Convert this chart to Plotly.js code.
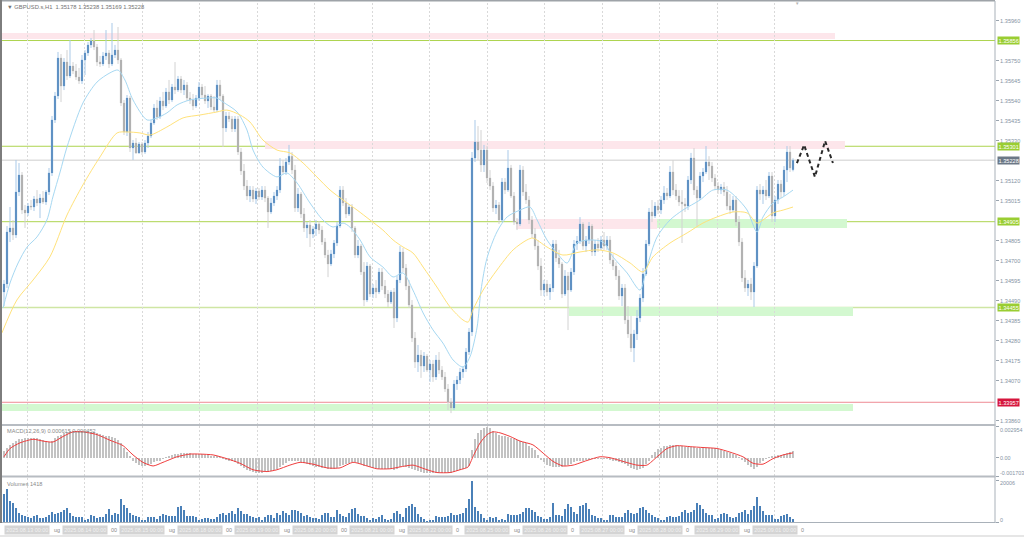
<!DOCTYPE html>
<html><head><meta charset="utf-8">
<script src="https://cdn.plot.ly/plotly-3.0.1.min.js"></script>
<style>html,body{margin:0;padding:0;background:#fff;overflow:hidden}#chart{width:1024px;height:537px}</style>
</head><body><div id="chart"></div>
<script>
// ---------- DATA ----------
const symbolTitle = '\u25BC GBPUSD.s,H1  1.35178 1.35238 1.35169 1.35228';
const macdTitle = 'MACD(12,26,9) 0.000615 0.000452';
const volTitle = 'Volumes 1418';
const dateLabels = ['2025.08.13 00:00','2025.08.14 00:00','2025.08.15 00:00','2025.08.18 00:00','2025.08.19 00:00','2025.08.20 00:00','2025.08.21 00:00','2025.08.22 00:00','2025.08.25 00:00','2025.08.26 00:00','2025.08.27 00:00','2025.08.28 00:00','2025.08.29 00:00','2025.09.01 00:00'];
const hiddenLabelTails = ['ug','00','ug','00','ug','00','ug','0','ug','0','ug','0','ug','0'];
const priceTicks = [1.35960,1.35750,1.35645,1.35540,1.35435,1.35330,1.35120,1.35015,1.34805,1.34700,1.34595,1.34490,1.34385,1.34280,1.34175,1.34070,1.33860];
const macdTicks = [0.002954, 0, -0.001703];
const macdTickText = ['0.002954','0.00','-0.001703'];
const volTicks = [20006, 0];
const volTickText = ['20006','0'];

const open = [
1.34536,1.34578,1.34851,1.34872,1.34835,1.35061,1.3515,1.34966,1.34951,1.34987,
1.34982,1.35024,1.35003,1.35029,1.35008,1.35061,1.35161,1.35439,1.35565,1.35764,
1.35617,1.35743,1.3567,1.35722,1.35696,1.35664,1.35644,1.35754,1.35791,1.35833,
1.35854,1.35822,1.35743,1.35733,1.35775,1.35791,1.35733,1.3578,1.35806,1.35754,
1.35528,1.35376,1.35554,1.35292,1.35318,1.35266,1.35313,1.35271,1.35318,1.35355,
1.35423,1.35502,1.35455,1.35539,1.35512,1.35586,1.35544,1.35612,1.35596,1.35654,
1.35596,1.35623,1.35554,1.35544,1.35512,1.35554,1.35612,1.3557,1.35539,1.35565,
1.35507,1.35491,1.35623,1.35565,1.35397,1.3546,1.35444,1.35392,1.35444,1.35271,
1.35171,1.35092,1.3504,1.35071,1.35024,1.35066,1.35035,1.35071,1.35029,1.34956,
1.35003,1.3504,1.35071,1.35197,1.35166,1.35218,1.35249,1.35176,1.34977,1.3505,
1.34945,1.34872,1.34888,1.3484,1.34867,1.34893,1.34861,1.34798,1.3473,1.34683,
1.34736,1.34793,1.34882,1.35071,1.35003,1.34945,1.34982,1.34872,1.3473,1.34777,
1.34641,1.34494,1.34672,1.34525,1.34557,1.34536,1.34641,1.34567,1.34525,1.34483,
1.34536,1.34399,1.34599,1.34746,1.34662,1.34567,1.34468,1.34294,1.34168,1.34205,
1.34147,1.342,1.34126,1.34158,1.3409,1.34179,1.34126,1.3409,1.34027,1.33958,
1.33927,1.34053,1.34074,1.34116,1.34132,1.34221,1.34326,1.35239,1.35323,1.35281,
1.35203,1.35281,1.35134,1.35092,1.34977,1.34993,1.34914,1.35113,1.35071,1.35187,
1.3504,1.34903,1.34893,1.35176,1.35061,1.35019,1.34914,1.3484,1.34777,1.34672,
1.34546,1.34578,1.34536,1.34557,1.34788,1.34714,1.34683,1.34525,1.3462,1.34546,
1.34641,1.34788,1.34804,1.34893,1.34777,1.34809,1.34882,1.34746,1.34788,1.34767,
1.34809,1.34777,1.34809,1.34704,1.34672,1.3462,1.34515,1.34557,1.34389,1.34316,
1.34242,1.34316,1.34399,1.34504,1.3463,1.34788,1.34956,1.34935,1.34987,1.34966,
1.35019,1.35056,1.3504,1.35166,1.35071,1.3504,1.35008,1.34998,1.34987,1.35124,
1.35239,1.35071,1.35029,1.35145,1.35166,1.35218,1.35197,1.35134,1.35092,1.35071,
1.35087,1.35061,1.34987,1.34966,1.35019,1.34903,1.34798,1.3461,1.34557,1.34578,
1.34536,1.34672,1.35071,1.3505,1.35071,1.3504,1.35145,1.34935,1.35019,1.35103,
1.35061,1.35176,1.35271,1.35178];

const high = [
1.34599,1.34882,1.34982,1.34914,1.35229,1.35213,1.35166,1.34993,1.35003,1.35019,
1.3504,1.35071,1.3505,1.35066,1.35071,1.35187,1.3546,1.35586,1.35796,1.35785,
1.35764,1.35806,1.35859,1.35743,1.35733,1.35712,1.3578,1.35806,1.35848,1.35869,
1.35911,1.35838,1.35775,1.35796,1.35911,1.35806,1.35948,1.35833,1.35927,1.35764,
1.35544,1.3557,1.35565,1.35334,1.35344,1.35323,1.35323,1.35334,1.35376,1.35439,
1.35523,1.35544,1.3556,1.35586,1.35607,1.35649,1.35628,1.35743,1.3567,1.3567,
1.35649,1.35638,1.35586,1.35575,1.3557,1.35638,1.35628,1.35617,1.35575,1.35575,
1.35565,1.35649,1.35649,1.35575,1.35481,1.35481,1.3546,1.3546,1.3546,1.35292,
1.35208,1.35124,1.35092,1.35092,1.35082,1.35082,1.35092,1.35092,1.3504,1.35029,
1.35061,1.35092,1.35239,1.35229,1.35239,1.35308,1.35271,1.35203,1.35082,1.35061,
1.34977,1.34903,1.34914,1.34882,1.34914,1.34909,1.34882,1.34819,1.34757,1.34757,
1.34809,1.34903,1.35092,1.35092,1.35029,1.34998,1.34998,1.34882,1.34809,1.34788,
1.34693,1.34693,1.34683,1.34578,1.34599,1.34662,1.34662,1.34599,1.34546,1.34546,
1.34557,1.3462,1.34777,1.34767,1.34683,1.34599,1.34494,1.34326,1.34258,1.34231,
1.34221,1.3421,1.34179,1.34179,1.34205,1.34221,1.34147,1.34116,1.34053,1.33979,
1.34074,1.34095,1.34137,1.34147,1.34242,1.34347,1.35271,1.35439,1.35407,1.35386,
1.35308,1.35302,1.35176,1.35113,1.35019,1.35008,1.35134,1.35134,1.35281,1.35203,
1.35061,1.34924,1.35203,1.35197,1.35103,1.3504,1.34935,1.34872,1.34809,1.34714,
1.34599,1.34599,1.34578,1.34809,1.34809,1.34757,1.34693,1.34651,1.34641,1.34662,
1.34809,1.3483,1.34929,1.34903,1.3483,1.34903,1.34893,1.34809,1.34819,1.3483,
1.34851,1.3483,1.3483,1.34735,1.34693,1.34651,1.34578,1.34578,1.34462,1.3441,
1.34337,1.34441,1.34525,1.34662,1.34809,1.34977,1.35019,1.35008,1.35019,1.3504,
1.35092,1.35082,1.35197,1.35229,1.35103,1.35071,1.35071,1.35029,1.35145,1.35266,
1.35292,1.35092,1.35166,1.35187,1.35302,1.35249,1.35218,1.35155,1.35113,1.35103,
1.35113,1.35092,1.3505,1.3504,1.3504,1.34935,1.34819,1.34651,1.34599,1.3461,
1.34693,1.35092,1.35103,1.35092,1.35124,1.35166,1.35166,1.3504,1.35124,1.35124,
1.35197,1.35302,1.35302,1.35238];

const low = [
1.34462,1.34557,1.34798,1.34809,1.34819,1.3504,1.34945,1.34872,1.34935,1.34966,
1.34961,1.34987,1.34924,1.34998,1.34993,1.35045,1.35145,1.35423,1.35549,1.35533,
1.35596,1.35649,1.35659,1.3568,1.35649,1.35628,1.35628,1.35675,1.35775,1.35817,
1.35806,1.35722,1.35717,1.35722,1.35754,1.35712,1.35722,1.35764,1.35733,1.35512,
1.3536,1.35355,1.35271,1.35229,1.35261,1.35261,1.35255,1.35261,1.35292,1.35344,
1.35413,1.35439,1.35444,1.35491,1.35502,1.35523,1.35533,1.35575,1.35586,1.3558,
1.3557,1.35539,1.35523,1.35491,1.35502,1.35539,1.35554,1.35523,1.35502,1.35491,
1.35481,1.35481,1.35544,1.35297,1.35376,1.35428,1.35376,1.35376,1.35255,1.3515,
1.35071,1.35019,1.35008,1.35008,1.34998,1.35019,1.35019,1.35008,1.34872,1.34945,
1.34987,1.35019,1.35056,1.35155,1.3515,1.35203,1.35155,1.34956,1.34956,1.34924,
1.34851,1.34819,1.34772,1.34819,1.3483,1.3484,1.34783,1.34714,1.34614,1.34672,
1.34714,1.34777,1.34872,1.34987,1.34924,1.34935,1.34851,1.34714,1.34714,1.34625,
1.34462,1.34483,1.3451,1.34504,1.34504,1.34525,1.34546,1.34504,1.34457,1.34473,
1.34347,1.34378,1.34583,1.34641,1.34546,1.34452,1.34273,1.34137,1.34116,1.34085,
1.34116,1.34116,1.34064,1.34064,1.34074,1.34106,1.34074,1.34011,1.33916,1.339,
1.33916,1.34022,1.34053,1.34085,1.34116,1.34205,1.34305,1.35218,1.35229,1.35166,
1.35166,1.35108,1.35071,1.34956,1.34945,1.34893,1.34903,1.3505,1.35061,1.35029,
1.34888,1.34861,1.34882,1.3504,1.34998,1.34893,1.34819,1.34757,1.34651,1.34515,
1.34515,1.34515,1.34494,1.34536,1.34693,1.34662,1.34504,1.34515,1.34336,1.34536,
1.34625,1.34757,1.34788,1.34757,1.34746,1.34788,1.34725,1.34725,1.34746,1.34757,
1.34757,1.34757,1.34683,1.34651,1.34599,1.34494,1.34462,1.34368,1.34295,1.34221,
1.34168,1.34284,1.34378,1.34483,1.3462,1.34777,1.34903,1.34924,1.34945,1.34945,
1.34998,1.35019,1.35029,1.35045,1.35019,1.34987,1.34793,1.34956,1.34966,1.35103,
1.35045,1.34877,1.35019,1.35113,1.35155,1.35124,1.35113,1.35071,1.3505,1.3505,
1.3504,1.34966,1.34945,1.34956,1.34882,1.34777,1.34588,1.34536,1.34515,1.34494,
1.34457,1.34662,1.35019,1.34998,1.35019,1.35029,1.34903,1.34903,1.34998,1.35029,
1.3504,1.35113,1.35166,1.35169];

const close = [
1.34578,1.34851,1.34872,1.34835,1.35061,1.3515,1.34966,1.34951,1.34987,1.34982,
1.35024,1.35003,1.35029,1.35008,1.35061,1.35161,1.35439,1.35565,1.35764,1.35617,
1.35743,1.3567,1.35722,1.35696,1.35664,1.35644,1.35754,1.35791,1.35833,1.35854,
1.35822,1.35743,1.35733,1.35775,1.35791,1.35733,1.3578,1.35806,1.35754,1.35528,
1.35376,1.35554,1.35292,1.35318,1.35266,1.35313,1.35271,1.35318,1.35355,1.35423,
1.35502,1.35455,1.35539,1.35512,1.35586,1.35544,1.35612,1.35596,1.35654,1.35596,
1.35623,1.35554,1.35544,1.35512,1.35554,1.35612,1.3557,1.35539,1.35565,1.35507,
1.35491,1.35623,1.35565,1.35397,1.3546,1.35444,1.35392,1.35444,1.35271,1.35171,
1.35092,1.3504,1.35071,1.35024,1.35066,1.35035,1.35071,1.35029,1.34956,1.35003,
1.3504,1.35071,1.35197,1.35166,1.35218,1.35249,1.35176,1.34977,1.3505,1.34945,
1.34872,1.34888,1.3484,1.34867,1.34893,1.34861,1.34798,1.3473,1.34683,1.34736,
1.34793,1.34882,1.35071,1.35003,1.34945,1.34982,1.34872,1.3473,1.34777,1.34641,
1.34494,1.34672,1.34525,1.34557,1.34536,1.34641,1.34567,1.34525,1.34483,1.34536,
1.34399,1.34599,1.34746,1.34662,1.34567,1.34468,1.34294,1.34168,1.34205,1.34147,
1.342,1.34126,1.34158,1.3409,1.34179,1.34126,1.3409,1.34027,1.33958,1.33927,
1.34053,1.34074,1.34116,1.34132,1.34221,1.34326,1.35239,1.35323,1.35281,1.35203,
1.35281,1.35134,1.35092,1.34977,1.34993,1.34914,1.35113,1.35071,1.35187,1.3504,
1.34903,1.34893,1.35176,1.35061,1.35019,1.34914,1.3484,1.34777,1.34672,1.34546,
1.34578,1.34536,1.34557,1.34788,1.34714,1.34683,1.34525,1.3462,1.34546,1.34641,
1.34788,1.34804,1.34893,1.34777,1.34809,1.34882,1.34746,1.34788,1.34767,1.34809,
1.34777,1.34809,1.34704,1.34672,1.3462,1.34515,1.34557,1.34389,1.34316,1.34242,
1.34316,1.34399,1.34504,1.3463,1.34788,1.34956,1.34935,1.34987,1.34966,1.35019,
1.35056,1.3504,1.35166,1.35071,1.3504,1.35008,1.34998,1.34987,1.35124,1.35239,
1.35071,1.35029,1.35145,1.35166,1.35218,1.35197,1.35134,1.35092,1.35071,1.35087,
1.35061,1.34987,1.34966,1.35019,1.34903,1.34798,1.3461,1.34557,1.34578,1.34536,
1.34672,1.35071,1.3505,1.35071,1.3504,1.35145,1.34935,1.35019,1.35103,1.35061,
1.35176,1.35271,1.35187,1.35228];

const volume = [
13400,16000,10100,9200,6700,4200,3500,2900,2200,1800,
2900,3200,2000,1700,2500,3200,4900,3900,4200,4900,
5900,6900,4200,2900,2500,2200,2500,1000,1300,3400,
3000,1800,2500,2500,3700,6200,3200,4200,3700,10900,
8400,6700,4200,3500,2900,2200,1000,840,2400,2400,
2500,1300,2700,3700,3200,3000,2900,3000,7400,7900,
5900,2900,2700,3000,2400,1000,1300,2000,1800,1500,
1500,2400,3700,4500,3500,4400,5400,4000,6700,5500,
3700,4000,3000,2400,2000,2400,1200,2200,3200,3200,
2000,4200,3200,5200,4500,3500,5700,5900,5400,4400,
3000,3400,2400,2000,2000,1500,3400,4400,4200,2200,
2400,5900,4000,2900,2500,4500,6200,6900,3700,3000,
2700,1800,1200,1700,1300,2500,3200,1300,1000,1500,
4500,5500,3700,2500,6700,7900,8900,7200,3700,2500,
1500,500,840,840,2900,2500,2200,2500,2700,4200,
3400,3400,3700,4400,6700,10900,20006,7200,5500,3700,
1700,1200,2200,1800,2400,1200,1500,1200,3900,3400,
3400,3200,3900,4700,6700,6900,5900,4900,2900,2500,
1300,1300,2500,9200,3500,3200,2900,6200,8700,7200,
5000,3900,7600,8100,9200,6200,3400,2900,2000,1700,
1200,1000,3200,3500,2200,2200,2500,4200,5900,4200,
3900,4500,6700,7400,5900,4200,3400,2400,1700,1000,
1200,2200,2700,2400,2500,2700,5000,5700,4500,4900,
5900,9200,8400,6200,4200,3200,3400,1500,2000,3900,
4500,3700,2500,2000,2200,4200,5000,5700,3900,5900,
7600,12300,7900,5500,3400,3400,3200,1300,1300,2900,
3400,4000,2500,1418];

const macdMain = [
0.0006,0.00095,0.0012,0.00138,0.00155,0.00172,0.00172,0.0018,0.0018,0.0018,
0.0018,0.0018,0.00172,0.00163,0.00155,0.00146,0.00155,0.0018,0.00198,0.00215,
0.00232,0.00241,0.00249,0.00249,0.00249,0.00249,0.00249,0.00249,0.00249,0.00241,
0.00241,0.00232,0.00224,0.00215,0.00206,0.00198,0.00189,0.0018,0.00163,0.00138,
0.00095,0.00052,0.00017,-0.00026,-0.00052,-0.00069,-0.00077,-0.00077,-0.00069,-0.0006,
-0.00043,-0.00034,-0.00026,-0.00009,0.00009,0.00017,0.00026,0.00034,0.00034,0.00043,
0.00043,0.00043,0.00043,0.00034,0.00034,0.00034,0.00034,0.00026,0.00026,0.00017,
0.00017,0.00017,0.00009,-0.00009,-0.00017,-0.00026,-0.00034,-0.00043,-0.0006,-0.00077,
-0.00095,-0.00112,-0.0012,-0.00129,-0.00138,-0.00138,-0.00138,-0.00129,-0.00129,-0.0012,
-0.00112,-0.00103,-0.00086,-0.00069,-0.00052,-0.00034,-0.00026,-0.00026,-0.00034,-0.00043,
-0.00052,-0.0006,-0.00069,-0.00077,-0.00086,-0.00086,-0.00095,-0.00095,-0.00103,-0.00103,
-0.00103,-0.00095,-0.00077,-0.00069,-0.0006,-0.00052,-0.00043,-0.00043,-0.00052,-0.0006,
-0.00077,-0.00077,-0.00086,-0.00095,-0.00095,-0.00103,-0.00103,-0.00103,-0.00103,-0.00103,
-0.00112,-0.00103,-0.00086,-0.00077,-0.00086,-0.00095,-0.00103,-0.00112,-0.0012,-0.00129,
-0.00138,-0.00138,-0.00146,-0.00146,-0.00146,-0.00146,-0.00146,-0.00138,-0.00138,-0.00138,
-0.00129,-0.0012,-0.00112,-0.00103,-0.00095,-0.00077,0.00069,0.00172,0.00232,0.00258,
0.00275,0.00284,0.00275,0.00249,0.00232,0.00215,0.00206,0.00198,0.00189,0.0018,
0.00172,0.00163,0.00155,0.00146,0.00138,0.00112,0.00095,0.00069,0.00026,-0.00017,
-0.00043,-0.00069,-0.00077,-0.00086,-0.00086,-0.00086,-0.00086,-0.00077,-0.00069,-0.0006,
-0.00043,-0.00034,-0.00026,-0.00026,-0.00017,-0.00017,-0.00009,-0.00009,-0.00009,-0.00009,
-0.00009,-0.00009,-0.00017,-0.00026,-0.00034,-0.00043,-0.00052,-0.0006,-0.00077,-0.00095,
-0.00103,-0.00112,-0.00103,-0.00095,-0.0006,-0.00026,0.00026,0.00052,0.00077,0.00095,
0.00112,0.00112,0.0012,0.0012,0.0012,0.00112,0.00112,0.00103,0.00103,0.00103,
0.00103,0.00095,0.00095,0.00095,0.00095,0.00095,0.00086,0.00086,0.00077,0.00069,
0.0006,0.00052,0.00043,0.00034,0.00026,0.00009,-0.00017,-0.00043,-0.00069,-0.00086,
-0.00103,-0.00086,-0.00052,-0.00026,-0.00009,0.00009,0.00017,0.00017,0.00026,0.00026,
0.00034,0.00043,0.00052,0.000615];

const signalIdx = [0,2,5.3,9.7,13,16.3,19.7,23,26.3,31,35.3,39.7,43,46.3,49.7,53,57.7,62,65.3,69.7,74.3,78.7,83,87.7,91,95.3,98.7,103,107.7,112,116.3,121,124.3,128.7,132,136.3,141,144.3,148.7,152,154.7,156.3,158.7,161,163,165.3,168.7,172,176.3,179.7,183,186.3,189.7,194.3,198.7,202,206.3,211,214.3,217.7,221,224.3,228.7,233,237.7,242,246.3,249.7,253,256.3,259.7,263];
const signalVal = [0.00009,0.00086,0.00138,0.00172,0.00155,0.00146,0.00198,0.00241,0.00241,0.00215,0.00163,0.00112,0.00026,-0.00043,-0.00077,-0.00043,0.00009,0.00034,0.00034,0.00026,-0.00009,-0.00052,-0.00112,-0.00129,-0.00112,-0.00069,-0.00043,-0.0006,-0.00095,-0.00095,-0.00043,-0.00077,-0.00103,-0.00103,-0.00086,-0.00069,-0.00112,-0.00138,-0.00138,-0.00112,-0.00086,0.00009,0.00138,0.00215,0.00241,0.00232,0.00198,0.00155,0.0012,0.00043,-0.00034,-0.00077,-0.00069,-0.00026,0.00009,0,-0.00034,-0.00069,-0.00069,0.00009,0.00086,0.00112,0.00103,0.00095,0.00086,0.00052,0.00009,-0.00052,-0.0006,-0.00009,0.00026,0.000452];

const maFastIdx = [-0.3,2,4.7,7.7,11,14.3,16.3,18.7,21,26.3,31,35.3,38,40.3,43,47.7,51,54.3,57.7,62,67.7,71,73,77.7,81,83,86.3,91,94.3,97.7,102,106.3,109.7,113,115.3,118.7,122,126.3,129.7,133,136.3,139.7,143,146.3,149.7,153,155.3,157.7,159,161,164.3,167.7,172,175.3,177.7,181,184.3,187.7,191,195.3,199.7,203,207.7,212,214.3,217.7,222,226.3,232,236.3,241,244.3,247.7,251,253,256.3,259.7,263];
const maFastVal = [1.34452,1.34583,1.34688,1.34772,1.34825,1.34914,1.35035,1.35166,1.35297,1.35528,1.35638,1.35686,1.35701,1.35649,1.35544,1.35439,1.3545,1.35476,1.35518,1.35544,1.35554,1.35554,1.35533,1.35481,1.35386,1.35281,1.35192,1.3514,1.35161,1.35108,1.35003,1.34914,1.34877,1.34898,1.34877,1.34809,1.3472,1.34667,1.34615,1.34636,1.34546,1.34426,1.34337,1.34268,1.34179,1.34142,1.34195,1.34352,1.34546,1.34714,1.34851,1.3493,1.34966,1.34982,1.34914,1.34809,1.34741,1.34688,1.34793,1.34809,1.34798,1.3472,1.34636,1.34546,1.34667,1.34825,1.34914,1.34966,1.35019,1.35071,1.35071,1.35029,1.34966,1.34851,1.3493,1.35003,1.35035,1.35071];

const maSlowIdx = [-0.7,4.3,9.7,15.3,21,26.3,32,37.7,41,45.3,48.7,54.3,59.7,65.3,71,74.3,78.7,82,86.3,91,95.3,99.7,104.3,108.7,113,117.7,122,126.3,129.7,133,136.3,139.7,144.3,148.7,153,154.7,156.3,159.7,164.3,169.7,174.3,176.3,181,186.3,192,197.7,203,208.7,213,216.3,222,227.7,233,237.7,243,247.7,251,253,256.3,259.7,263];
const maSlowVal = [1.34321,1.34494,1.34599,1.3472,1.3494,1.35098,1.35245,1.35371,1.35376,1.35371,1.3536,1.35402,1.3545,1.35465,1.35481,1.35491,1.35465,1.35428,1.35334,1.35281,1.35266,1.35213,1.3514,1.35071,1.35019,1.34966,1.34914,1.34861,1.34809,1.34772,1.34741,1.34667,1.34562,1.34457,1.34389,1.34378,1.34441,1.34546,1.34651,1.34757,1.34809,1.34819,1.34772,1.3473,1.34746,1.34757,1.34741,1.34688,1.34641,1.3472,1.34793,1.34846,1.34898,1.3493,1.34956,1.34951,1.34898,1.34914,1.34951,1.34966,1.34982];

const zigzagIdx = [264.3,266.7,270.3,273.7,276.3];
const zigzagVal = [1.35213,1.35308,1.3514,1.35329,1.35213];

const resistanceLevels = [1.35856,1.35301,1.34905,1.34455];
const supportLevel = 1.33957;
const currentPrice = 1.35228;

const zoneStart = [-0.7, 87, 170.7, 217.7, 188.3, -0.7];
const zoneEnd   = [277, 280.3, 217.7, 281, 283, 283];
const zoneLow   = [1.35864, 1.35287, 1.34867, 1.34872, 1.34410, 1.33911];
const zoneHigh  = [1.35896, 1.35329, 1.34919, 1.34919, 1.34457, 1.33948];
const zoneKind  = ['pink','pink','pink','green','green','green'];

// ---------- LAYOUT HELPERS ----------
const W = 1024, H = 537;
const px = p => p / W;
const py = p => 1 - p / H;
const FONT = 'Liberation Sans, Arial, sans-serif';
const idx = close.map((_, i) => i);
const gridPos = dateLabels.map((d, k) => 7.667 + 19.1667 * k);
const bodyHi = open.map((o, i) => Math.max(o, close[i]));
const bodyLo = open.map((o, i) => Math.min(o, close[i]));

const traces = [
  {type:'candlestick', x: idx, open, high, low, close, xaxis:'x', yaxis:'y', hoverinfo:'skip',
   increasing:{line:{color:'#a9c9e8', width:1}, fillcolor:'#a9c9e8'},
   decreasing:{line:{color:'#d2d2d2', width:1}, fillcolor:'#d2d2d2'}},
  {type:'candlestick', x: idx, open, high: bodyHi, low: bodyLo, close, xaxis:'x', yaxis:'y', hoverinfo:'skip',
   increasing:{line:{color:'#3c77b3', width:0}, fillcolor:'#3c77b3'},
   decreasing:{line:{color:'#a2a2a2', width:0}, fillcolor:'#a2a2a2'}},
  {type:'scatter', mode:'lines', x: maFastIdx, y: maFastVal, xaxis:'x', yaxis:'y', hoverinfo:'skip',
   line:{color:'#a6d8f2', width:1, shape:'spline', smoothing:0.8}},
  {type:'scatter', mode:'lines', x: maSlowIdx, y: maSlowVal, xaxis:'x', yaxis:'y', hoverinfo:'skip',
   line:{color:'#ffe27a', width:1, shape:'spline', smoothing:0.8}},
  {type:'scatter', mode:'lines', x: zigzagIdx, y: zigzagVal, xaxis:'x', yaxis:'y', hoverinfo:'skip',
   line:{color:'#2a2a2a', width:2, dash:'4px,3px'}},
  {type:'bar', x: idx, y: macdMain, xaxis:'x', yaxis:'y2', width:0.55, hoverinfo:'skip',
   marker:{color:'#c2c2c2', line:{width:0}}},
  {type:'scatter', mode:'lines', x: signalIdx, y: signalVal, xaxis:'x', yaxis:'y2', hoverinfo:'skip',
   line:{color:'#f03c3c', width:1, shape:'spline', smoothing:0.6}},
  {type:'bar', x: idx, y: volume, xaxis:'x', yaxis:'y3', width:0.7, hoverinfo:'skip',
   marker:{color:'#4a80b8', line:{width:0}}}
];

const shapes = [];
zoneStart.forEach((s, k) => {
  shapes.push({type:'rect', xref:'x', yref:'y', x0:s, x1:zoneEnd[k], y0:zoneLow[k], y1:zoneHigh[k],
    fillcolor: zoneKind[k] === 'pink' ? '#fde6eb' : '#d3f8d0', line:{width:0}, layer:'below'});
});
resistanceLevels.forEach((v, k) => {
  shapes.push({type:'line', xref:'x domain', yref:'y', x0:0, x1:1, y0:v, y1:v,
    line:{color: k === 3 ? '#cfe6a4' : '#add44f', width: k === 3 ? 1.5 : 1}, layer:'below'});
});
shapes.push({type:'line', xref:'x domain', yref:'y', x0:0, x1:1, y0:supportLevel, y1:supportLevel,
  line:{color:'#ee8a94', width:1}, layer:'below'});
shapes.push({type:'line', xref:'x domain', yref:'y', x0:0, x1:1, y0:currentPrice, y1:currentPrice,
  line:{color:'#cdcdcd', width:1}, layer:'below'});
const frameColor = '#a9b1b9';
shapes.push({type:'rect', xref:'paper', yref:'paper', x0:px(0), x1:px(995), y0:py(1.6), y1:py(0), fillcolor:'#9ea3a8', line:{width:0}});
shapes.push({type:'rect', xref:'paper', yref:'paper', x0:px(0), x1:px(2), y0:py(523), y1:py(0), fillcolor:'#7d7d7d', line:{width:0}});
shapes.push({type:'line', xref:'paper', yref:'paper', x0:px(995), x1:px(995), y0:py(523), y1:py(1), line:{color:frameColor, width:1}});
shapes.push({type:'rect', xref:'paper', yref:'paper', x0:px(2), x1:px(995.5), y0:py(426), y1:py(424), fillcolor:'#b7bcc2', line:{width:0}});
shapes.push({type:'rect', xref:'paper', yref:'paper', x0:px(2), x1:px(995.5), y0:py(477.5), y1:py(475.5), fillcolor:'#b7bcc2', line:{width:0}});
shapes.push({type:'line', xref:'paper', yref:'paper', x0:px(2), x1:px(995.5), y0:py(522.5), y1:py(522.5), line:{color:frameColor, width:1}});
shapes.push({type:'rect', xref:'paper', yref:'paper', x0:px(0), x1:px(1024), y0:py(537), y1:py(535), fillcolor:'#e6e6e6', line:{width:0}});

const annotations = [];
const txt = (x, y, text, size, color, extra) => Object.assign({xref:'paper', yref:'paper', x:px(x), y:py(y), text,
  showarrow:false, xanchor:'left', yanchor:'middle', font:{family:FONT, size, color}}, extra || {});
annotations.push(txt(5, 7, symbolTitle, 5.8, '#737373'));
annotations.push(txt(5, 431, macdTitle, 5.6, '#8a8a8a'));
annotations.push(txt(5, 483.5, volTitle, 5.6, '#8a8a8a'));
annotations.push(txt(793, 3.5, '\u25BC', 4.5, '#b4b4b4'));
const macdLabelY = [429.5, 458, 472.5];
macdTickText.forEach((t, k) => annotations.push(txt(998, macdLabelY[k], t, 5.4, '#8593a3')));
const volLabelY = [482.5, 519.5];
volTickText.forEach((t, k) => annotations.push(txt(998, volLabelY[k], t, 5.4, '#8593a3')));
const boxAnn = (v, bg) => ({xref:'paper', yref:'y', x:px(997), y:v, xanchor:'left', yanchor:'middle',
  text:v.toFixed(5), showarrow:false, bgcolor:bg, borderpad:0.6,
  font:{family:FONT, size:5.6, color:'#ffffff'}});
resistanceLevels.forEach(v => annotations.push(boxAnn(v, '#9acd32')));
annotations.push(boxAnn(supportLevel, '#d6163d'));
annotations.push(boxAnn(currentPrice, '#6c7886'));
// partly hidden native time labels, then the grey date boxes over them
dateLabels.forEach((d, k) => annotations.push({xref:'x', yref:'paper', x:gridPos[k] + 8.2, y:py(529.5),
  xanchor:'left', yanchor:'middle', text:hiddenLabelTails[k], showarrow:false,
  font:{family:FONT, size:5.4, color:'#8a8a8a'}}));
dateLabels.forEach((d, k) => annotations.push({xref:'x', yref:'paper', x:gridPos[k], y:py(529.5),
  xanchor:'center', yanchor:'middle', text:d, showarrow:false, bgcolor:'#d4d4d4', borderpad:1.2,
  font:{family:FONT, size:5.4, color:'#f2f2f2'}}));

const layout = {
  width: W, height: H, margin:{l:0, r:0, t:0, b:0, pad:0},
  paper_bgcolor:'#ffffff', plot_bgcolor:'#ffffff', showlegend:false,
  boxmode:'overlay', boxgap:0.35, bargap:0,
  xaxis:{domain:[px(2), px(995)], range:[-0.667, 330.33], anchor:'y3',
    tickmode:'array', tickvals: gridPos, showticklabels:false, ticks:'',
    showgrid:true, gridcolor:'#d9d9d9', gridwidth:1, griddash:'2px,2px',
    zeroline:false, showline:false, rangeslider:{visible:false}, fixedrange:true},
  yaxis:{domain:[py(424), py(3)], range:[1.33843, 1.36053], anchor:'x', side:'right',
    tickmode:'array', tickvals: priceTicks, tickformat:'.5f', ticks:'outside', ticklen:3,
    tickcolor:'#9aa4ae', tickfont:{family:FONT, size:5.6, color:'#8593a3'},
    showgrid:false, zeroline:false, showline:false, fixedrange:true},
  yaxis2:{domain:[py(476), py(426)], range:[-0.001703, 0.002954], anchor:'x', side:'right',
    tickmode:'array', tickvals: macdTicks, showticklabels:false, ticks:'outside', ticklen:3,
    tickcolor:'#9aa4ae', showgrid:false, zeroline:false, showline:false, fixedrange:true},
  yaxis3:{domain:[py(522), py(478)], range:[0, 21300], anchor:'x', side:'right',
    tickmode:'array', tickvals: volTicks, showticklabels:false, ticks:'outside', ticklen:3,
    tickcolor:'#9aa4ae', showgrid:false, zeroline:false, showline:false, fixedrange:true},
  shapes, annotations
};

Plotly.newPlot('chart', traces, layout, {displayModeBar:false, staticPlot:true});
</script>
</body></html>
